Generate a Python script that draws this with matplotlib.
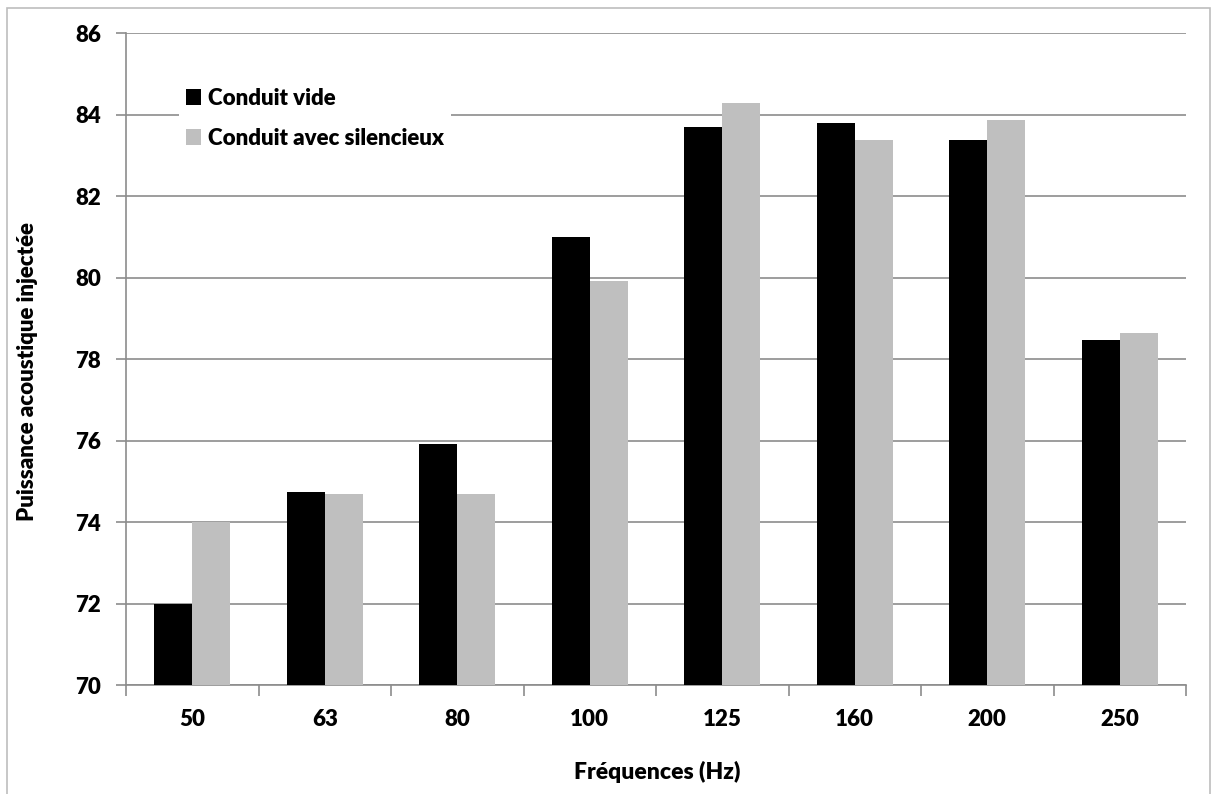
import numpy as np
import matplotlib.pyplot as plt
from matplotlib.patches import Rectangle

# -----------------------------------------------------
freqs = ["50", "63", "80", "100", "125", "160", "200", "250"]
conduit_vide = [71.98, 74.73, 75.91, 81.01, 83.70, 83.81, 83.39, 78.47]
conduit_silencieux = [74.00, 74.70, 74.68, 79.91, 84.28, 83.37, 83.87, 78.65]
# -----------------------------------------------------

plt.rcParams['font.family'] = ['Lato', 'DejaVu Sans']
plt.rcParams['font.weight'] = 'heavy'
FS = 16

W, H = 1212, 794
fig = plt.figure(figsize=(W/100, H/100), dpi=100)
ax = fig.add_axes([126/W, 1 - 685/H, (1186-126)/W, (685-33.3)/H])

# chart area border (cut at the bottom like the original)
fig.patches.append(Rectangle((7/W, -0.05), (1210-7)/W, 1 - 8/H + 0.05,
                             transform=fig.transFigure, fill=False,
                             edgecolor='#BDBDBD', lw=1.2))

x = np.arange(len(freqs))
w = 1/3.5
ax.bar(x - w/2, np.array(conduit_vide) - 70, w, bottom=70, color='black',
       label="Conduit vide", zorder=3)
ax.bar(x + w/2, np.array(conduit_silencieux) - 70, w, bottom=70, color='#BFBFBF',
       label="Conduit avec silencieux", zorder=3)

ax.set_ylim(70, 86)
ax.set_xlim(-0.5, len(freqs) - 0.5)
ax.set_yticks(np.arange(70, 87, 2))
ax.yaxis.grid(True, color='#8C8C8C', lw=1.2, zorder=0)

ax.set_xticks(x)
ax.set_xticklabels(freqs)
ax.set_xticks(np.arange(-0.5, len(freqs), 1), minor=True)
ax.tick_params(axis='x', which='major', length=0, pad=17, labelsize=FS)
ax.tick_params(axis='x', which='minor', length=8, color='#8C8C8C', width=1.2)
ax.tick_params(axis='y', length=7, color='#8C8C8C', width=1.2, pad=11, labelsize=FS)

for s in ['top', 'right']:
    ax.spines[s].set_visible(False)
for s in ['left', 'bottom']:
    ax.spines[s].set_color('#8C8C8C')
    ax.spines[s].set_linewidth(1.2)

ax.set_xlabel("Fréquences (Hz)", fontsize=FS + 0.5, fontweight='heavy')
ax.xaxis.set_label_coords((657-126)/(1186-126), -(772-685)/(685-33.3))
ax.xaxis.label.set_va('center')
fig.text(28/W, 1 - 372/H, "Puissance acoustique injectée", rotation=90,
         ha='center', va='center', fontsize=FS, fontweight='heavy')

leg = ax.legend(loc='upper left', bbox_to_anchor=(168/W, 1 - 70/H),
                bbox_transform=fig.transFigure, frameon=True, fancybox=False,
                handlelength=0.68, handleheight=0.68, handletextpad=0.32,
                labelspacing=0.85, borderpad=0.3, fontsize=FS)
leg.get_frame().set_edgecolor('none')
leg.get_frame().set_facecolor('white')
leg.get_frame().set_alpha(1)

fig.savefig("out.png", dpi=100)
